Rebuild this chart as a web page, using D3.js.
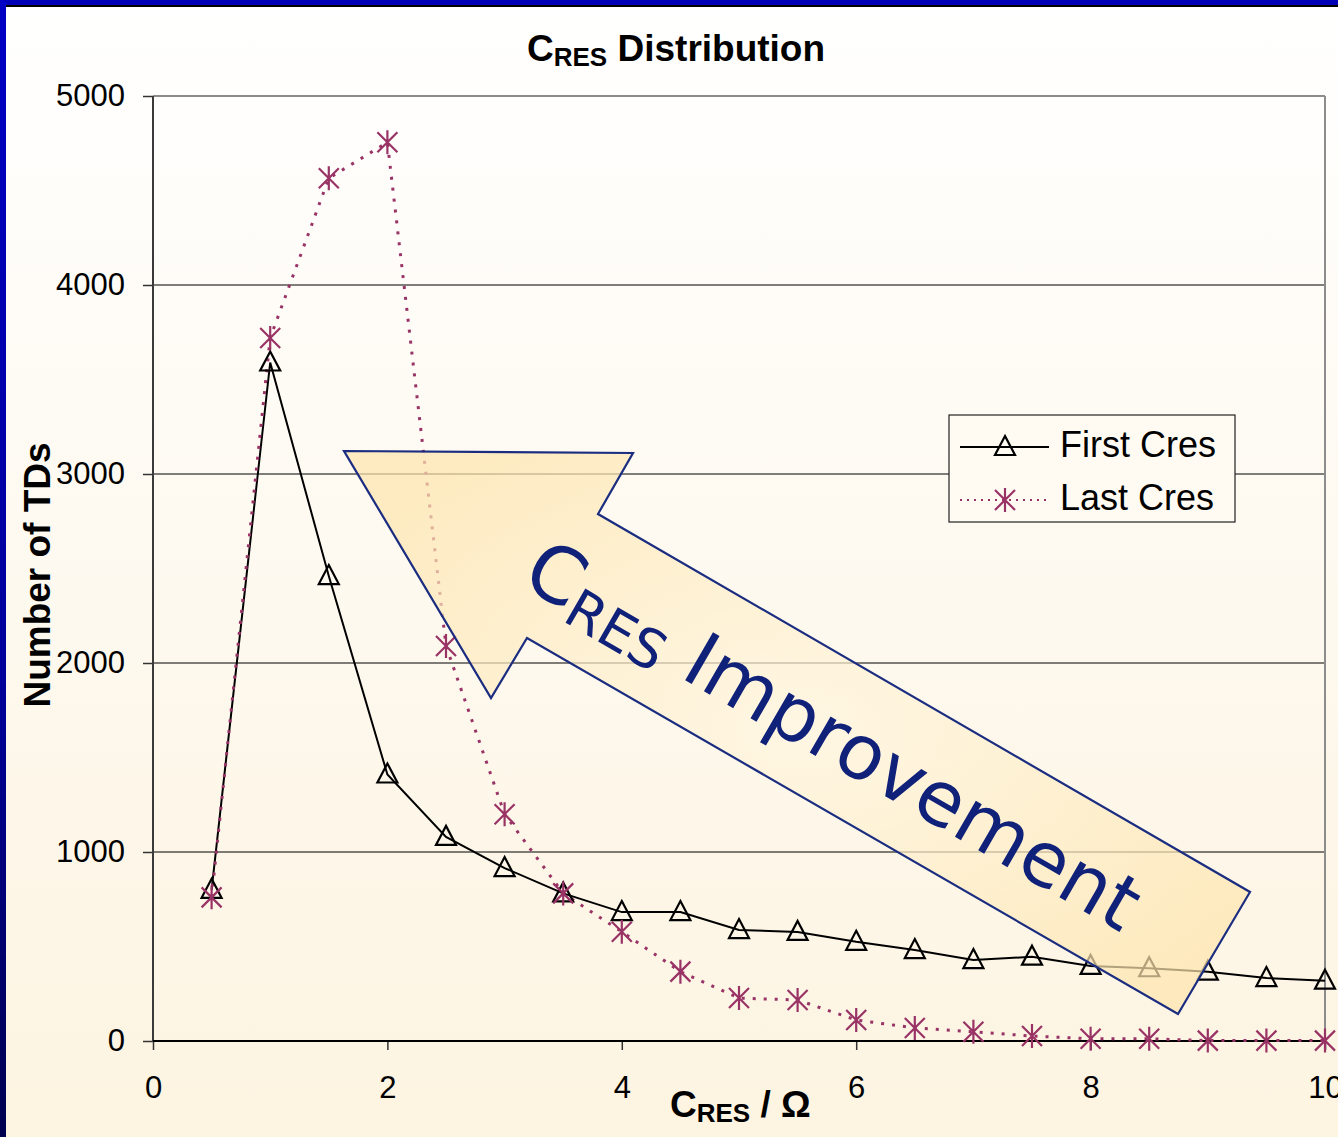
<!DOCTYPE html>
<html><head><meta charset="utf-8">
<script src="https://cdn.jsdelivr.net/npm/d3@7"></script>
<style>body{margin:0;overflow:hidden;background:#fff;} svg{display:block;}</style>
</head><body><svg id="c" width="1338" height="1137"></svg>
<script>
// ---- data ----
const xValues = [0.5,1,1.5,2,2.5,3,3.5,4,4.5,5,5.5,6,6.5,7,7.5,8,8.5,9,9.5,10];
const firstCres = [800,3590,2460,1410,1080,915,781,682,682,587,577,525,481,428,446,397,385,367,333,319];
const lastCres  = [760,3720,4565,4755,2090,1200,781,578,367,227,217,111,69,49,26,12,12,2,2,2];
const yTicks = [0,1000,2000,3000,4000,5000];
const xTicks = [0,2,4,6,8,10];
const seriesNames = ["First Cres","Last Cres"];

const svg = d3.select("#c");
const W = 1338, H = 1137;
const defs = svg.append("defs");

// background gradient
const bg = defs.append("linearGradient").attr("id","bg").attr("x1",0).attr("y1",0).attr("x2",0).attr("y2",1);
bg.append("stop").attr("offset","0%").attr("stop-color","#ffffff");
bg.append("stop").attr("offset","100%").attr("stop-color","#fdf4e1");
svg.append("rect").attr("width",W).attr("height",H).attr("fill","url(#bg)");

// frame borders
const lb = defs.append("linearGradient").attr("id","lb").attr("x1",0).attr("y1",0).attr("x2",0).attr("y2",1);
lb.append("stop").attr("offset","0%").attr("stop-color","#0000c4");
lb.append("stop").attr("offset","60%").attr("stop-color","#00009a");
lb.append("stop").attr("offset","100%").attr("stop-color","#000050");
svg.append("rect").attr("x",0).attr("y",0).attr("width",W).attr("height",5).attr("fill","#0000b8");
svg.append("rect").attr("x",0).attr("y",5).attr("width",W).attr("height",2).attr("fill","#000000");
svg.append("rect").attr("x",0).attr("y",0).attr("width",6).attr("height",H).attr("fill","url(#lb)");

// scales
const x = d3.scaleLinear().domain([0,10]).range([153,1325]);
const y = d3.scaleLinear().domain([0,5000]).range([1041,96]);

// gridlines
svg.append("g").selectAll("line").data(yTicks.filter(d=>d>0 && d<5000)).join("line")
  .attr("x1",x(0)).attr("x2",x(10)).attr("y1",d=>y(d)).attr("y2",d=>y(d))
  .attr("stroke","#000").attr("stroke-width",1.2);
// plot border (top/right gray)
svg.append("line").attr("x1",x(0)).attr("x2",x(10)).attr("y1",y(5000)).attr("y2",y(5000)).attr("stroke","#8c8c8c").attr("stroke-width",2);
svg.append("line").attr("x1",x(10)).attr("x2",x(10)).attr("y1",y(5000)).attr("y2",y(0)).attr("stroke","#8c8c8c").attr("stroke-width",2);

// axes
const yAxis = svg.append("g").attr("transform",`translate(${x(0)},0)`)
  .call(d3.axisLeft(y).tickValues(yTicks).tickSize(10).tickPadding(18).tickFormat(d3.format("d")));
const xAxis = svg.append("g").attr("transform",`translate(0,${y(0)})`)
  .call(d3.axisBottom(x).tickValues(xTicks).tickSize(9).tickPadding(26).tickFormat(d3.format("d")));
[yAxis,xAxis].forEach(g=>{
  g.select(".domain").remove();
  g.selectAll(".tick line").attr("stroke","#333").attr("stroke-width",1.5);
  g.selectAll(".tick text").attr("fill","#000").style("font-family","'Liberation Sans', Arial, sans-serif").style("font-size","31px");
});
svg.append("line").attr("x1",x(0)).attr("x2",x(0)).attr("y1",y(5000)).attr("y2",y(0)+1).attr("stroke","#3a3a3a").attr("stroke-width",2);
svg.append("line").attr("x1",x(0)).attr("x2",x(10)).attr("y1",y(0)).attr("y2",y(0)).attr("stroke","#000").attr("stroke-width",2);

// series lines
const PLUM = "#993366";
const line = d3.line().x((d,i)=>x(xValues[i])).y(d=>y(d));
svg.append("path").datum(firstCres).attr("d",line).attr("fill","none").attr("stroke","#000").attr("stroke-width",2);
svg.append("path").datum(lastCres).attr("d",line).attr("fill","none").attr("stroke",PLUM).attr("stroke-width",3).attr("stroke-dasharray","3,8");

// markers
function triangle(g){ g.append("path").attr("d","M0,-11 L10,8 L-10,8 Z").attr("fill","none").attr("stroke","#000").attr("stroke-width",2.2); }
function asterisk(g){ g.append("path").attr("d","M-10,-10 L10,10 M10,-10 L-10,10 M0,-12 L0,12").attr("fill","none").attr("stroke",PLUM).attr("stroke-width",2.2); }
svg.append("g").selectAll("g").data(firstCres).join("g")
  .attr("transform",(d,i)=>`translate(${x(xValues[i])},${y(d)})`).each(function(){triangle(d3.select(this));});
svg.append("g").selectAll("g").data(lastCres).join("g")
  .attr("transform",(d,i)=>`translate(${x(xValues[i])},${y(d)})`).each(function(){asterisk(d3.select(this));});

// legend
const leg = svg.append("g");
leg.append("rect").attr("x",949).attr("y",415).attr("width",286).attr("height",107).attr("fill","#fffbf3").attr("stroke","#222").attr("stroke-width",1.2);
leg.append("line").attr("x1",960).attr("x2",1049).attr("y1",447).attr("y2",447).attr("stroke","#000").attr("stroke-width",2);
triangle(leg.append("g").attr("transform","translate(1005,447)"));
leg.append("line").attr("x1",960).attr("x2",1049).attr("y1",500).attr("y2",500).attr("stroke",PLUM).attr("stroke-width",2).attr("stroke-dasharray","2,5");
asterisk(leg.append("g").attr("transform","translate(1005,500)"));
leg.selectAll("text.lg").data(seriesNames).join("text").attr("class","lg")
  .attr("x",1060).attr("y",(d,i)=>457+i*53).text(d=>d)
  .style("font-family","'Liberation Sans', Arial, sans-serif").style("font-size","36px").attr("fill","#000");

// arrow
const ag = defs.append("radialGradient").attr("id","ag").attr("cx","50%").attr("cy","50%").attr("r","60%");
ag.append("stop").attr("offset","0%").attr("stop-color","#fff6e0");
ag.append("stop").attr("offset","100%").attr("stop-color","#fde4ac");
const arrowPts = [[344,451],[633,453],[598,514],[1250,892],[1178,1014],[527,638],[491,698]];
svg.append("path").attr("d","M"+arrowPts.map(p=>p.join(",")).join("L")+"Z")
  .attr("fill","url(#ag)").attr("fill-opacity",0.7).attr("stroke","#1b2d80").attr("stroke-width",2.2).attr("stroke-linejoin","miter");

const at = svg.append("text").attr("transform","translate(519,584) rotate(30.1)")
  .style("font-family","'DejaVu Sans', sans-serif").attr("fill","#10217a");
at.append("tspan").text("C").style("font-size","78px");
at.append("tspan").text("RES").style("font-size","54px").attr("dy",10);
at.append("tspan").text(" Improvement").style("font-size","76px").attr("dy",-10);

// titles
const tf = "'Liberation Sans', Arial, sans-serif";
const title = svg.append("text").attr("x",527).attr("y",61).style("font-family",tf).style("font-weight","bold").attr("fill","#000");
title.append("tspan").text("C").style("font-size","37px");
title.append("tspan").text("RES").style("font-size","26px").attr("dy",5);
title.append("tspan").text(" Distribution").style("font-size","37px").attr("dy",-5);

const xt = svg.append("text").attr("x",670).attr("y",1117).style("font-family",tf).style("font-weight","bold").attr("fill","#000");
xt.append("tspan").text("C").style("font-size","37px");
xt.append("tspan").text("RES").style("font-size","26px").attr("dy",5);
xt.append("tspan").text(" / Ω").style("font-size","37px").attr("dy",-5);

svg.append("text").attr("transform","translate(50,575) rotate(-90)").attr("text-anchor","middle")
  .style("font-family",tf).style("font-weight","bold").style("font-size","37px").attr("fill","#000").text("Number of TDs");
</script>
</body></html>
